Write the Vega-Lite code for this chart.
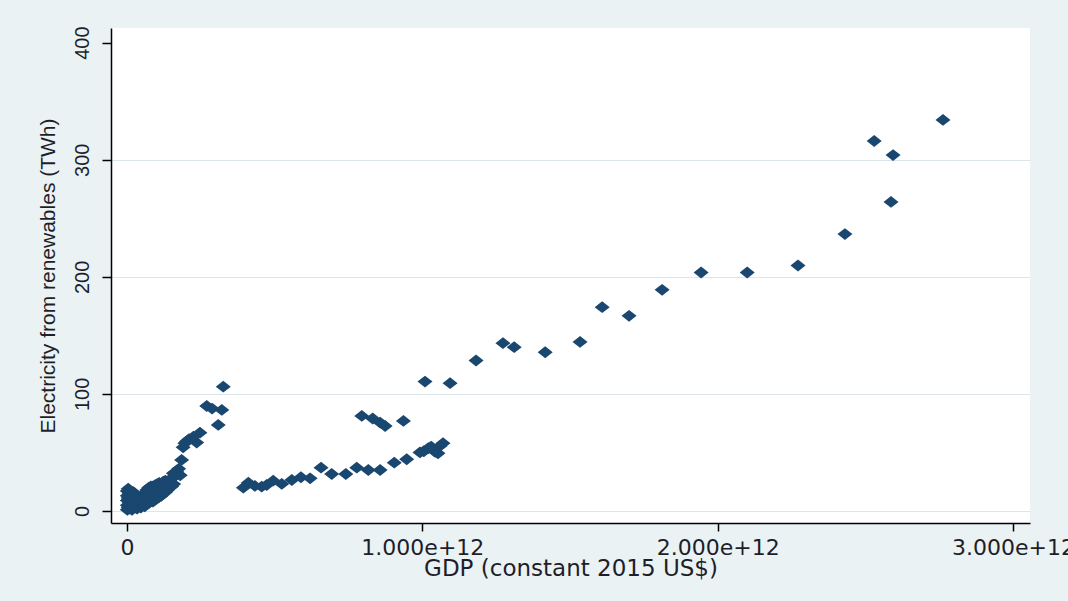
{
  "$schema": "https://vega.github.io/schema/vega-lite/v6.json",
  "width": 919,
  "height": 495,
  "autosize": {"type": "none"},
  "padding": {"left": 111, "top": 28, "right": 38, "bottom": 78},
  "background": "#eaf2f3",
  "config": {"view": {"fill": "white", "stroke": null}},
  "data": {
    "values": [
      {"gdp": 2.763e12, "twh": 334}, {"gdp": 2.530e12, "twh": 316}, {"gdp": 2.594e12, "twh": 304},
      {"gdp": 2.587e12, "twh": 264}, {"gdp": 2.431e12, "twh": 236.5}, {"gdp": 2.272e12, "twh": 209.7},
      {"gdp": 2.100e12, "twh": 203.7}, {"gdp": 1.944e12, "twh": 203.7}, {"gdp": 1.812e12, "twh": 188.9},
      {"gdp": 1.700e12, "twh": 166.7}, {"gdp": 1.609e12, "twh": 174.1}, {"gdp": 1.534e12, "twh": 144.4},
      {"gdp": 1.416e12, "twh": 135.6}, {"gdp": 1.311e12, "twh": 139.9}, {"gdp": 1.273e12, "twh": 143.3},
      {"gdp": 1.182e12, "twh": 128.5}, {"gdp": 1.094e12, "twh": 109.2}, {"gdp": 1.009e12, "twh": 110.5},
      {"gdp": 0.795e12, "twh": 81.2}, {"gdp": 0.832e12, "twh": 79}, {"gdp": 0.857e12, "twh": 75.5},
      {"gdp": 0.874e12, "twh": 72.6}, {"gdp": 0.936e12, "twh": 76.9},
      {"gdp": 0.394e12, "twh": 19.9}, {"gdp": 0.411e12, "twh": 24.2}, {"gdp": 0.433e12, "twh": 21.4},
      {"gdp": 0.456e12, "twh": 20.8}, {"gdp": 0.473e12, "twh": 22.2}, {"gdp": 0.495e12, "twh": 25.9},
      {"gdp": 0.524e12, "twh": 23.1}, {"gdp": 0.558e12, "twh": 26.5}, {"gdp": 0.589e12, "twh": 28.8},
      {"gdp": 0.620e12, "twh": 27.9}, {"gdp": 0.657e12, "twh": 37}, {"gdp": 0.693e12, "twh": 31.6},
      {"gdp": 0.741e12, "twh": 31.6}, {"gdp": 0.778e12, "twh": 37}, {"gdp": 0.817e12, "twh": 35},
      {"gdp": 0.857e12, "twh": 35}, {"gdp": 0.905e12, "twh": 41.3}, {"gdp": 0.947e12, "twh": 44.2},
      {"gdp": 0.992e12, "twh": 50}, {"gdp": 1.005e12, "twh": 51}, {"gdp": 1.020e12, "twh": 53.6},
      {"gdp": 1.030e12, "twh": 55}, {"gdp": 1.043e12, "twh": 50.5}, {"gdp": 1.053e12, "twh": 49.3},
      {"gdp": 1.060e12, "twh": 55.6}, {"gdp": 1.070e12, "twh": 57.9},
      {"gdp": 0.326e12, "twh": 106.2}, {"gdp": 0.270e12, "twh": 89.7}, {"gdp": 0.288e12, "twh": 87.5},
      {"gdp": 0.321e12, "twh": 86.3}, {"gdp": 0.309e12, "twh": 73.5}, {"gdp": 0.247e12, "twh": 66.9},
      {"gdp": 0.236e12, "twh": 58.4}, {"gdp": 0.225e12, "twh": 63.5}, {"gdp": 0.210e12, "twh": 61.3},
      {"gdp": 0.202e12, "twh": 59.5}, {"gdp": 0.196e12, "twh": 57.9}, {"gdp": 0.190e12, "twh": 54.4},
      {"gdp": 0.185e12, "twh": 43.6}, {"gdp": 0.175e12, "twh": 36}, {"gdp": 0.168e12, "twh": 33.6},
      {"gdp": 0.157e12, "twh": 32.2}, {"gdp": 0.180e12, "twh": 30.5},
      {"gdp": 0.001e12, "twh": 1}, {"gdp": 0.001e12, "twh": 5}, {"gdp": 0.001e12, "twh": 9},
      {"gdp": 0.001e12, "twh": 13}, {"gdp": 0.001e12, "twh": 17},
      {"gdp": 0.004e12, "twh": 3}, {"gdp": 0.004e12, "twh": 11}, {"gdp": 0.004e12, "twh": 19},
      {"gdp": 0.008e12, "twh": 2}, {"gdp": 0.008e12, "twh": 7}, {"gdp": 0.008e12, "twh": 15},
      {"gdp": 0.012e12, "twh": 4}, {"gdp": 0.012e12, "twh": 10}, {"gdp": 0.012e12, "twh": 17},
      {"gdp": 0.017e12, "twh": 1}, {"gdp": 0.017e12, "twh": 8}, {"gdp": 0.017e12, "twh": 14},
      {"gdp": 0.022e12, "twh": 3}, {"gdp": 0.022e12, "twh": 12}, {"gdp": 0.022e12, "twh": 16},
      {"gdp": 0.028e12, "twh": 5}, {"gdp": 0.028e12, "twh": 9},
      {"gdp": 0.034e12, "twh": 2}, {"gdp": 0.034e12, "twh": 13},
      {"gdp": 0.040e12, "twh": 4}, {"gdp": 0.040e12, "twh": 8}, {"gdp": 0.040e12, "twh": 11},
      {"gdp": 0.047e12, "twh": 3}, {"gdp": 0.047e12, "twh": 7},
      {"gdp": 0.053e12, "twh": 5}, {"gdp": 0.053e12, "twh": 10}, {"gdp": 0.053e12, "twh": 13},
      {"gdp": 0.060e12, "twh": 4}, {"gdp": 0.060e12, "twh": 9}, {"gdp": 0.060e12, "twh": 15},
      {"gdp": 0.067e12, "twh": 6}, {"gdp": 0.067e12, "twh": 12}, {"gdp": 0.067e12, "twh": 18},
      {"gdp": 0.074e12, "twh": 7}, {"gdp": 0.074e12, "twh": 14}, {"gdp": 0.074e12, "twh": 20},
      {"gdp": 0.081e12, "twh": 9}, {"gdp": 0.081e12, "twh": 16}, {"gdp": 0.081e12, "twh": 21},
      {"gdp": 0.088e12, "twh": 8}, {"gdp": 0.088e12, "twh": 13}, {"gdp": 0.088e12, "twh": 21},
      {"gdp": 0.095e12, "twh": 10}, {"gdp": 0.095e12, "twh": 17}, {"gdp": 0.095e12, "twh": 22},
      {"gdp": 0.102e12, "twh": 11}, {"gdp": 0.102e12, "twh": 15}, {"gdp": 0.102e12, "twh": 23},
      {"gdp": 0.109e12, "twh": 12}, {"gdp": 0.109e12, "twh": 19}, {"gdp": 0.109e12, "twh": 24},
      {"gdp": 0.116e12, "twh": 13}, {"gdp": 0.116e12, "twh": 17}, {"gdp": 0.116e12, "twh": 23},
      {"gdp": 0.123e12, "twh": 15}, {"gdp": 0.123e12, "twh": 20}, {"gdp": 0.123e12, "twh": 25},
      {"gdp": 0.130e12, "twh": 16}, {"gdp": 0.130e12, "twh": 22}, {"gdp": 0.130e12, "twh": 26},
      {"gdp": 0.137e12, "twh": 18}, {"gdp": 0.137e12, "twh": 24},
      {"gdp": 0.144e12, "twh": 20}, {"gdp": 0.144e12, "twh": 26},
      {"gdp": 0.151e12, "twh": 21}, {"gdp": 0.151e12, "twh": 28},
      {"gdp": 0.158e12, "twh": 23}, {"gdp": 0.158e12, "twh": 29}
    ]
  },
  "mark": {
    "type": "point",
    "shape": "M-1.27,0L0,-1L1.27,0L0,1Z",
    "filled": true,
    "size": 140,
    "color": "#1a476f",
    "opacity": 1,
    "clip": false
  },
  "encoding": {
    "x": {
      "field": "gdp",
      "type": "quantitative",
      "scale": {"domain": [-5.42e10, 3.0576e12], "nice": false, "zero": false},
      "axis": {
        "title": "GDP (constant 2015 US$)",
        "values": [0, 1e12, 2e12, 3e12],
        "labelExpr": "datum.value == 0 ? '0' : format(datum.value, '.3e')",
        "grid": false,
        "domainColor": "#000000",
        "domainWidth": 1.5,
        "tickColor": "#000000",
        "tickWidth": 1.5,
        "tickSize": 8,
        "labelFont": "DejaVu Sans",
        "labelFontSize": 22,
        "labelColor": "#1e1e2a",
        "labelBaseline": "alphabetic",
        "labelPadding": 23,
        "labelFlush": false,
        "labelOverlap": false,
        "titleFont": "DejaVu Sans",
        "titleFontSize": 23,
        "titleFontWeight": "normal",
        "titleColor": "#1e1e2a",
        "titleBaseline": "alphabetic",
        "titleY": 52
      }
    },
    "y": {
      "field": "twh",
      "type": "quantitative",
      "scale": {"domain": [-10.25, 412.5], "nice": false, "zero": false},
      "axis": {
        "title": "Electricity from renewables (TWh)",
        "values": [0, 100, 200, 300, 400],
        "grid": true,
        "gridColor": "#dbe5ea",
        "gridWidth": 1,
        "gridOpacity": {"condition": {"test": "datum.value >= 400", "value": 0}, "value": 1},
        "domainColor": "#000000",
        "domainWidth": 1.5,
        "tickColor": "#000000",
        "tickWidth": 1.5,
        "tickSize": 9,
        "labelAngle": -90,
        "labelAlign": "center",
        "labelBaseline": "alphabetic",
        "labelPadding": 14,
        "labelFont": "Liberation Sans",
        "labelFontSize": 20,
        "labelColor": "#1e1e2a",
        "titleFont": "Liberation Sans",
        "titleFontSize": 21,
        "titleFontWeight": "normal",
        "titleColor": "#1e1e2a",
        "titleAngle": -90,
        "titleBaseline": "alphabetic",
        "titleX": -57
      }
    }
  }
}
